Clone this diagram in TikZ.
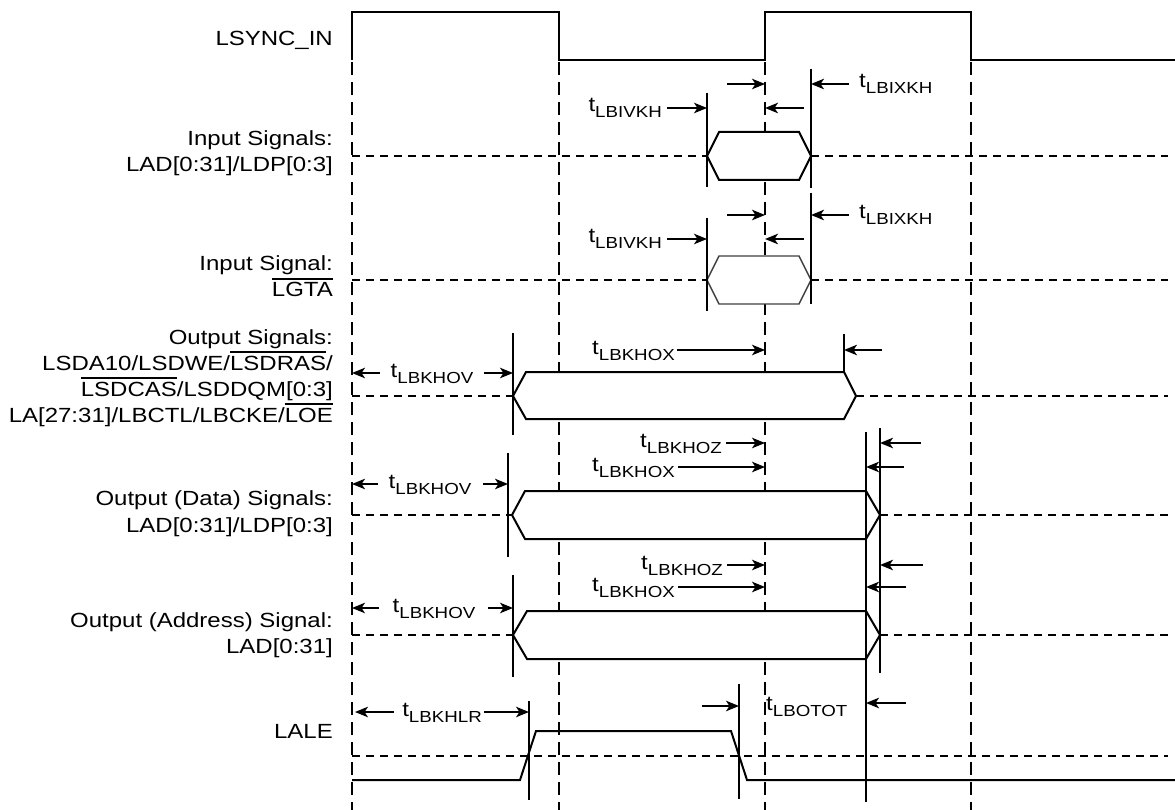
\documentclass[tikz,border=0pt]{standalone}
\usepackage{fontspec}
\setmainfont{Liberation Sans}[FakeStretch=1.17]
\usetikzlibrary{arrows.meta}
\newcommand{\tlab}[1]{{\fontsize{20.5}{20}\selectfont t}\raisebox{-6pt}{\fontsize{16}{16}\selectfont #1}}
\newcommand{\ovl}[1]{\begingroup\setbox0\hbox{#1}\rlap{\rule[\dimexpr\ht0+2.5pt\relax]{\wd0}{1.7pt}}\box0\endgroup}
\begin{document}
\begin{tikzpicture}[x=1pt,y=-1pt,
  wave/.style={line width=2pt},
  bar/.style={line width=2pt},
  vdash/.style={line width=1.9pt, dash pattern=on 13pt off 7pt},
  hdash/.style={line width=1.7pt, dash pattern=on 8pt off 6pt},
  arr/.style={line width=1.9pt, -{Stealth[length=13pt,width=10.5pt,inset=3.5pt]}},
  hexa/.style={line width=2pt, fill=white},
  hexb/.style={line width=1.4pt, draw=black!75, fill=white},
  lbl/.style={font=\fontsize{20.5}{20}\selectfont, anchor=base east, inner sep=0pt},
  tle/.style={anchor=base east, inner sep=0pt},
  tlw/.style={anchor=base west, inner sep=0pt},
  tlc/.style={anchor=base, inner sep=0pt}]
\useasboundingbox (0,0) rectangle (1175,810);

% row labels
\node[lbl] (lsync) at (333,46) {LSYNC\_IN};
\node[lbl] (in1a) at (333,146) {Input Signals:};
\node[lbl] (in1b) at (333,172) {LAD[0:31]/LDP[0:3]};
\node[lbl] (in2a) at (333,271) {Input Signal:};
\node[lbl] (in2b) at (333,297) {\ovl{LGTA}};
\node[lbl] (out1a) at (333,344) {Output Signals:};
\node[lbl] (out1b) at (333,370) {LSDA10/LSDWE/\ovl{LSDRAS}/};
\node[lbl] (out1c) at (333,396) {\ovl{LSDCAS}/LSDDQM[0:3]};
\node[lbl] (out1d) at (333,422) {LA[27:31]/LBCTL/LBCKE/\ovl{LOE}};
\node[lbl] (out2a) at (333,505) {Output (Data) Signals:};
\node[lbl] (out2b) at (333,532) {LAD[0:31]/LDP[0:3]};
\node[lbl] (out3a) at (333,627) {Output (Address) Signal:};
\node[lbl] (out3b) at (333,653) {LAD[0:31]};
\node[lbl] (lale) at (333,738) {LALE};

% clock
\draw[wave] (352,60) -- (352,12) -- (559,12) -- (559,60) -- (765,60) -- (765,12) -- (971,12) -- (971,60) -- (1175,60);
\foreach \x in {352,559,765,971} \draw[vdash] (\x,62) -- (\x,810);

% horizontal mid lines
\draw[hdash] (352,156) -- (707,156);  \draw[hdash] (811,156) -- (1168,156);
\draw[hdash] (352,280) -- (707,280);  \draw[hdash] (811,280) -- (1168,280);
\draw[hdash] (352,396) -- (513,396);  \draw[hdash] (856,396) -- (1168,396);
\draw[hdash] (352,515) -- (512,515);  \draw[hdash] (880,515) -- (1168,515);
\draw[hdash] (352,635) -- (513,635);  \draw[hdash] (880,635) -- (1168,635);
\draw[hdash] (352,756) -- (1168,756);

% data windows
\draw[hexa] (707,156) -- (719,132) -- (799,132) -- (811,156) -- (799,180) -- (719,180) -- cycle;
\draw[hexb] (707,280) -- (719,256) -- (799,256) -- (811,280) -- (799,304) -- (719,304) -- cycle;
\draw[hexa] (513,396) -- (526,372) -- (844,372) -- (856,396) -- (844,419) -- (526,419) -- cycle;
\draw[hexa] (512,515) -- (525,491) -- (866,491) -- (880,515) -- (866,539) -- (525,539) -- cycle;
\draw[hexa] (513,635) -- (527,611) -- (866,611) -- (880,635) -- (866,659) -- (527,659) -- cycle;

% LALE
\draw[wave] (352,780) -- (520,780) -- (536,731) -- (731,731) -- (747,780) -- (1175,780);

% reference bars
\draw[bar] (707,93) -- (707,187);  \draw[bar] (811,69) -- (811,188);
\draw[bar] (707,218) -- (707,311); \draw[bar] (811,193) -- (811,304);
\draw[bar] (513,333) -- (513,435); \draw[bar] (844,334) -- (844,372);
\draw[bar] (508,453) -- (508,557); \draw[bar] (866,432) -- (866,802); \draw[bar] (880,428) -- (880,673);
\draw[bar] (513,575) -- (513,677);
\draw[bar] (529,701) -- (529,800); \draw[bar] (739,684) -- (739,799);

% row 1
\draw[arr] (727,84) -- (765,84);  \draw[arr] (849,84) -- (811,84);
\draw[arr] (667,108) -- (707,108); \draw[arr] (804,108) -- (765,108);
\node[tle] (ivkh1) at (662,112) {\tlab{LBIVKH}};
\node[tlw] (ixkh1) at (859,88) {\tlab{LBIXKH}};
% row 2
\draw[arr] (727,215) -- (765,215);  \draw[arr] (849,215) -- (811,215);
\draw[arr] (667,239) -- (707,239); \draw[arr] (804,239) -- (765,239);
\node[tle] (ivkh2) at (662,243) {\tlab{LBIVKH}};
\node[tlw] (ixkh2) at (859,219) {\tlab{LBIXKH}};
% row 3
\draw[arr] (380,373) -- (352,373); \draw[arr] (484,373) -- (513,373);
\draw[arr] (677,350) -- (765,350); \draw[arr] (882,350) -- (844,350);
\node[tlc] (hov3) at (432,377) {\tlab{LBKHOV}};
\node[tle] (hox3) at (675,354) {\tlab{LBKHOX}};
% row 4
\draw[arr] (378,484) -- (352,484); \draw[arr] (483,484) -- (508,484);
\draw[arr] (726,443) -- (765,443); \draw[arr] (678,467) -- (765,467);
\draw[arr] (921,443) -- (880,443); \draw[arr] (904,467) -- (866,467);
\node[tlc] (hov4) at (430,488) {\tlab{LBKHOV}};
\node[tle] (hoz4) at (722,447) {\tlab{LBKHOZ}};
\node[tle] (hox4) at (675,471) {\tlab{LBKHOX}};
% row 5
\draw[arr] (379,608) -- (352,608); \draw[arr] (488,608) -- (513,608);
\draw[arr] (727,565) -- (765,565); \draw[arr] (678,587) -- (765,587);
\draw[arr] (923,565) -- (880,565); \draw[arr] (906,587) -- (866,587);
\node[tlc] (hov5) at (434,612) {\tlab{LBKHOV}};
\node[tle] (hoz5) at (723,569) {\tlab{LBKHOZ}};
\node[tle] (hox5) at (675,591) {\tlab{LBKHOX}};
% row 6
\draw[arr] (394,712) -- (355,712); \draw[arr] (484,712) -- (529,712);
\draw[arr] (702,706) -- (739,706); \draw[arr] (906,703) -- (866,703);
\node[tle] (hlr) at (482,716) {\tlab{LBKHLR}};
\node[tlw] (otot) at (766,710) {\tlab{LBOTOT}};
\end{tikzpicture}
\end{document}
